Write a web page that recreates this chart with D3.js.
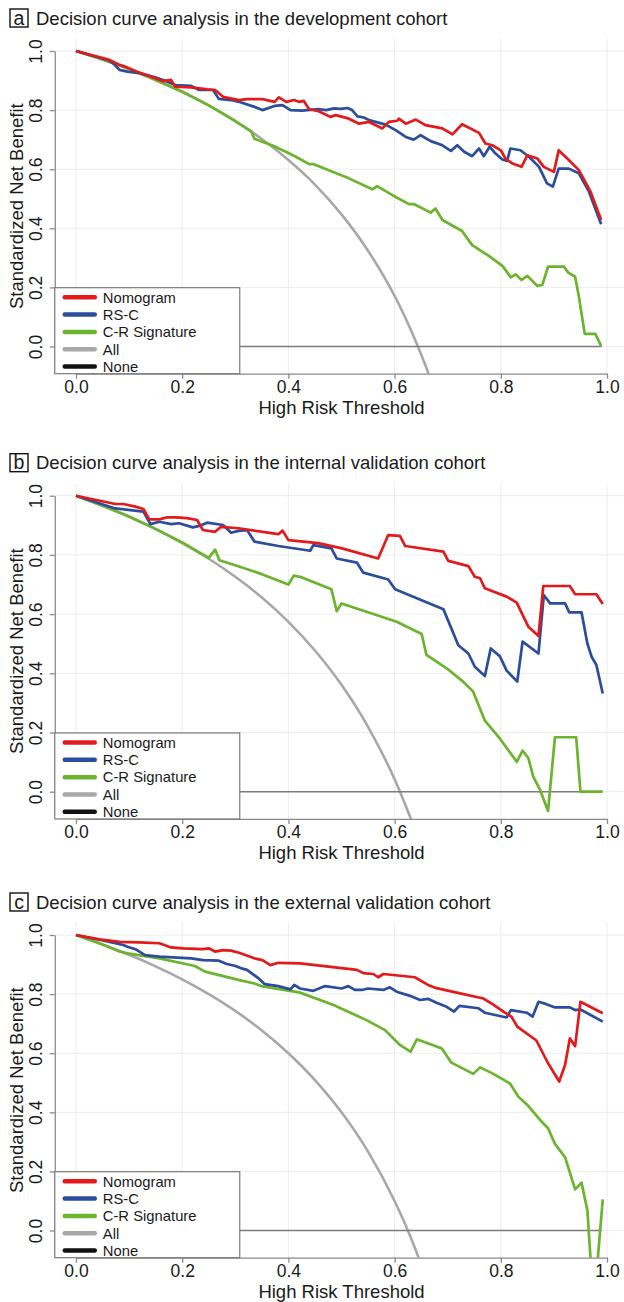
<!DOCTYPE html>
<html>
<head>
<meta charset="utf-8">
<script src="https://cdn.jsdelivr.net/npm/d3@7"></script>
<style>
  body { margin: 0; background: #fff; }
  text { font-family: "Liberation Sans", Arial, sans-serif; fill: #1a1a1a; }
</style>
</head>
<body>
<script>
// figure size
var W = 624, H = 1302;

// shared axis ticks and legend
var xTicks = [0, 0.2, 0.4, 0.6, 0.8, 1.0];
var yTicks = [0, 0.2, 0.4, 0.6, 0.8, 1.0];
var legendLabels = ["Nomogram", "RS-C", "C-R Signature", "All", "None"];
var legendColors = ["#e31a1c", "#2b4d9d", "#6cb32e", "#a8a8a8", "#111111"];
var panelLetters = ["a", "b", "c"];
var panelTitles = [
  "Decision curve analysis in the development cohort",
  "Decision curve analysis in the internal validation cohort",
  "Decision curve analysis in the external validation cohort"
];

// ---- (a) development cohort: [threshold, standardized net benefit]
var devNomogram = [[0,1.0],[0.063,0.97],[0.082,0.953],[0.093,0.947],[0.115,0.93],[0.142,0.913],[0.164,0.898],[0.179,0.902],[0.187,0.879],[0.217,0.877],[0.247,0.87],[0.262,0.868],[0.277,0.845],[0.307,0.834],[0.322,0.837],[0.351,0.837],[0.374,0.828],[0.382,0.843],[0.396,0.828],[0.411,0.834],[0.42,0.828],[0.429,0.831],[0.439,0.803],[0.457,0.796],[0.479,0.777],[0.489,0.783],[0.514,0.771],[0.533,0.754],[0.552,0.76],[0.577,0.738],[0.589,0.76],[0.605,0.764],[0.608,0.771],[0.621,0.754],[0.64,0.768],[0.658,0.749],[0.69,0.738],[0.709,0.718],[0.727,0.752],[0.759,0.723],[0.771,0.687],[0.784,0.681],[0.8,0.664],[0.809,0.636],[0.822,0.619],[0.839,0.608],[0.85,0.647],[0.869,0.636],[0.881,0.608],[0.9,0.591],[0.909,0.664],[0.928,0.631],[0.947,0.597],[0.969,0.524],[0.989,0.428]];
var devRSC = [[0,1.0],[0.062,0.968],[0.07,0.958],[0.082,0.936],[0.097,0.93],[0.119,0.925],[0.149,0.911],[0.164,0.902],[0.187,0.885],[0.217,0.882],[0.232,0.868],[0.258,0.868],[0.269,0.838],[0.292,0.834],[0.307,0.828],[0.336,0.811],[0.351,0.8],[0.374,0.814],[0.389,0.817],[0.404,0.8],[0.426,0.798],[0.456,0.803],[0.471,0.8],[0.486,0.806],[0.498,0.804],[0.511,0.807],[0.52,0.8],[0.53,0.779],[0.542,0.775],[0.552,0.766],[0.583,0.751],[0.602,0.732],[0.621,0.709],[0.636,0.7],[0.649,0.715],[0.668,0.695],[0.69,0.681],[0.706,0.662],[0.718,0.681],[0.731,0.659],[0.746,0.644],[0.759,0.67],[0.768,0.644],[0.779,0.676],[0.79,0.653],[0.803,0.633],[0.812,0.628],[0.818,0.67],[0.837,0.664],[0.853,0.642],[0.872,0.608],[0.887,0.552],[0.898,0.541],[0.909,0.602],[0.928,0.602],[0.947,0.586],[0.966,0.524],[0.989,0.414]];
var devCR = [[0,1.0],[0.05,0.971],[0.1,0.939],[0.15,0.902],[0.2,0.862],[0.25,0.816],[0.3,0.763],[0.33,0.728],[0.336,0.703],[0.37,0.68],[0.4,0.655],[0.42,0.636],[0.439,0.617],[0.448,0.617],[0.483,0.591],[0.514,0.569],[0.558,0.532],[0.567,0.543],[0.596,0.512],[0.627,0.482],[0.636,0.482],[0.668,0.453],[0.677,0.467],[0.69,0.428],[0.727,0.391],[0.746,0.343],[0.778,0.306],[0.803,0.273],[0.819,0.234],[0.828,0.244],[0.839,0.225],[0.85,0.239],[0.869,0.205],[0.878,0.208],[0.889,0.27],[0.919,0.27],[0.927,0.25],[0.94,0.236],[0.947,0.169],[0.958,0.043],[0.978,0.043],[0.989,0.002]];
var devAll = [[0,1.0],[0.05,0.971],[0.1,0.939],[0.15,0.902],[0.2,0.862],[0.25,0.816],[0.3,0.763],[0.35,0.702],[0.4,0.631],[0.45,0.548],[0.5,0.447],[0.55,0.324],[0.6,0.171],[0.62,0.098],[0.64,0.017],[0.66,-0.073],[0.67,-0.123]];

// ---- (b) internal validation cohort
var intNomogram = [[0,1.0],[0.074,0.972],[0.089,0.972],[0.112,0.963],[0.127,0.955],[0.138,0.92],[0.157,0.92],[0.172,0.927],[0.187,0.927],[0.209,0.924],[0.228,0.918],[0.239,0.884],[0.262,0.878],[0.273,0.895],[0.306,0.89],[0.381,0.87],[0.389,0.882],[0.4,0.85],[0.456,0.84],[0.501,0.822],[0.569,0.788],[0.588,0.867],[0.61,0.864],[0.62,0.83],[0.692,0.811],[0.701,0.78],[0.739,0.762],[0.751,0.726],[0.761,0.721],[0.77,0.687],[0.811,0.659],[0.83,0.639],[0.852,0.557],[0.871,0.526],[0.88,0.695],[0.93,0.695],[0.94,0.667],[0.98,0.667],[0.992,0.634]];
var intRSC = [[0,1.0],[0.074,0.957],[0.127,0.946],[0.14,0.904],[0.157,0.912],[0.179,0.904],[0.194,0.907],[0.22,0.893],[0.232,0.898],[0.247,0.909],[0.277,0.901],[0.292,0.875],[0.306,0.881],[0.322,0.884],[0.336,0.845],[0.381,0.83],[0.441,0.814],[0.447,0.833],[0.481,0.822],[0.491,0.788],[0.529,0.774],[0.541,0.74],[0.588,0.717],[0.601,0.684],[0.635,0.659],[0.692,0.616],[0.72,0.495],[0.739,0.467],[0.751,0.422],[0.77,0.391],[0.781,0.484],[0.798,0.458],[0.811,0.409],[0.831,0.372],[0.841,0.507],[0.871,0.467],[0.881,0.664],[0.893,0.636],[0.921,0.636],[0.929,0.606],[0.952,0.606],[0.963,0.501],[0.971,0.456],[0.98,0.428],[0.992,0.332]];
var intCR = [[0,1.0],[0.05,0.966],[0.1,0.93],[0.15,0.888],[0.2,0.842],[0.25,0.79],[0.262,0.818],[0.27,0.782],[0.3,0.765],[0.35,0.735],[0.4,0.7],[0.41,0.73],[0.422,0.726],[0.481,0.684],[0.491,0.61],[0.5,0.636],[0.547,0.608],[0.604,0.574],[0.651,0.533],[0.66,0.462],[0.698,0.417],[0.729,0.372],[0.748,0.338],[0.77,0.24],[0.798,0.18],[0.83,0.101],[0.841,0.139],[0.852,0.113],[0.861,0.051],[0.874,0.006],[0.889,-0.065],[0.902,0.184],[0.942,0.184],[0.95,0],[0.992,0]];
var intAll = [[0,1.0],[0.05,0.966],[0.1,0.929],[0.15,0.887],[0.2,0.84],[0.25,0.787],[0.3,0.726],[0.35,0.656],[0.4,0.574],[0.45,0.477],[0.5,0.361],[0.55,0.219],[0.6,0.042],[0.62,-0.043],[0.64,-0.136]];

// ---- (c) external validation cohort
var extNomogram = [[0,1.0],[0.044,0.985],[0.082,0.977],[0.119,0.975],[0.157,0.972],[0.179,0.958],[0.202,0.955],[0.239,0.952],[0.25,0.955],[0.262,0.944],[0.277,0.949],[0.292,0.947],[0.307,0.94],[0.336,0.921],[0.351,0.915],[0.366,0.898],[0.381,0.906],[0.422,0.904],[0.529,0.882],[0.541,0.871],[0.56,0.868],[0.569,0.857],[0.579,0.868],[0.638,0.857],[0.663,0.831],[0.679,0.82],[0.717,0.805],[0.767,0.785],[0.783,0.768],[0.805,0.741],[0.82,0.724],[0.831,0.69],[0.867,0.643],[0.889,0.566],[0.91,0.504],[0.921,0.56],[0.93,0.65],[0.94,0.624],[0.95,0.774],[0.992,0.735]];
var extRSC = [[0,1.0],[0.044,0.984],[0.089,0.966],[0.097,0.96],[0.112,0.952],[0.13,0.932],[0.157,0.927],[0.217,0.921],[0.239,0.915],[0.269,0.913],[0.284,0.902],[0.299,0.896],[0.31,0.888],[0.322,0.882],[0.344,0.853],[0.355,0.834],[0.381,0.827],[0.404,0.816],[0.411,0.831],[0.422,0.819],[0.447,0.811],[0.469,0.827],[0.5,0.819],[0.513,0.827],[0.525,0.814],[0.538,0.814],[0.55,0.819],[0.579,0.814],[0.591,0.823],[0.604,0.808],[0.629,0.794],[0.648,0.78],[0.663,0.784],[0.679,0.771],[0.698,0.757],[0.712,0.741],[0.722,0.76],[0.758,0.752],[0.77,0.737],[0.811,0.721],[0.819,0.746],[0.849,0.737],[0.86,0.724],[0.871,0.774],[0.886,0.766],[0.902,0.755],[0.93,0.755],[0.94,0.746],[0.95,0.748],[0.992,0.707]];
var extCR = [[0,1.0],[0.05,0.968],[0.082,0.944],[0.097,0.938],[0.157,0.921],[0.224,0.895],[0.243,0.876],[0.306,0.848],[0.336,0.836],[0.351,0.826],[0.4,0.812],[0.422,0.805],[0.485,0.763],[0.547,0.712],[0.582,0.678],[0.61,0.628],[0.63,0.605],[0.642,0.647],[0.689,0.616],[0.707,0.568],[0.748,0.53],[0.761,0.552],[0.786,0.53],[0.817,0.498],[0.833,0.453],[0.852,0.421],[0.874,0.374],[0.889,0.346],[0.902,0.293],[0.921,0.248],[0.94,0.139],[0.952,0.162],[0.963,0.069],[0.975,-0.26],[0.992,0.105]];
var extAll = [[0,1.0],[0.05,0.968],[0.1,0.933],[0.15,0.894],[0.2,0.85],[0.25,0.8],[0.3,0.743],[0.35,0.677],[0.4,0.6],[0.45,0.509],[0.5,0.4],[0.55,0.267],[0.6,0.1],[0.62,0.021],[0.64,-0.067],[0.66,-0.165]];

// "None" reference line
var noneLine = [[0, 0], [0.99, 0]];

var panels = [
  {nom: devNomogram, rsc: devRSC, cr: devCR, all: devAll, yOne: 51, yZero: 346.5},
  {nom: intNomogram, rsc: intRSC, cr: intCR, all: intAll, yOne: 495.7, yZero: 791.7},
  {nom: extNomogram, rsc: extRSC, cr: extCR, all: extAll, yOne: 935, yZero: 1230.5}
];

var svg = d3.select("body").append("svg")
    .attr("width", W)
    .attr("height", H);

svg.append("rect").attr("width", W).attr("height", H).attr("fill", "#fff");

panels.forEach(function(p, i) {
  var x = d3.scaleLinear().domain([0, 1]).range([76, 607]);
  var y = d3.scaleLinear().domain([0, 1]).range([p.yZero, p.yOne]);
  var left = x(-0.04), right = x(1.04), top = y(1.042), bottom = y(-0.092);

  var g = svg.append("g");

  // clip region = plot area
  var clipId = "clip" + i;
  svg.append("clipPath").attr("id", clipId)
    .append("rect")
    .attr("x", left).attr("y", top)
    .attr("width", right - left).attr("height", bottom - top);

  // light grid
  g.append("g").selectAll("line").data(xTicks).join("line")
    .attr("x1", function(d) { return x(d); })
    .attr("x2", function(d) { return x(d); })
    .attr("y1", top).attr("y2", bottom)
    .attr("stroke", "#ececec").attr("stroke-width", 1);
  g.append("g").selectAll("line").data(yTicks).join("line")
    .attr("x1", left).attr("x2", right)
    .attr("y1", function(d) { return y(d); })
    .attr("y2", function(d) { return y(d); })
    .attr("stroke", "#ececec").attr("stroke-width", 1);

  // axes
  var xa = g.append("g")
    .attr("transform", "translate(0," + bottom + ")")
    .call(d3.axisBottom(x).tickValues(xTicks).tickFormat(d3.format(".1f")).tickSize(5).tickSizeOuter(0));
  xa.select(".domain").attr("stroke", "#8a8a8a").attr("stroke-width", 1.3);
  xa.selectAll(".tick line").attr("stroke", "#8a8a8a").attr("stroke-width", 1.3);
  xa.selectAll("text")
    .attr("y", 19.5).attr("dy", 0)
    .style("font-size", "17.5px").style("font-family", "Liberation Sans, Arial, sans-serif").attr("fill", "#1a1a1a");

  var ya = g.append("g")
    .attr("transform", "translate(" + left + ",0)")
    .call(d3.axisLeft(y).tickValues(yTicks).tickFormat(d3.format(".1f")).tickSize(5).tickSizeOuter(0));
  ya.select(".domain").attr("stroke", "#8a8a8a").attr("stroke-width", 1.3);
  ya.selectAll(".tick line").attr("stroke", "#8a8a8a").attr("stroke-width", 1.3);
  ya.selectAll("text")
    .attr("transform", "rotate(-90)")
    .attr("x", 0).attr("y", -13).attr("dy", 0)
    .attr("text-anchor", "middle")
    .style("font-size", "17.5px").style("font-family", "Liberation Sans, Arial, sans-serif").attr("fill", "#1a1a1a");

  // axis titles
  g.append("text")
    .attr("x", (left + right) / 2)
    .attr("y", bottom + 40.5)
    .attr("text-anchor", "middle")
    .style("font-size", "18.5px")
    .text("High Risk Threshold");
  g.append("text")
    .attr("transform", "translate(23," + ((top + bottom) / 2) + ") rotate(-90)")
    .attr("text-anchor", "middle")
    .style("font-size", "18.5px")
    .text("Standardized Net Benefit");

  // curves
  var line = d3.line()
    .x(function(d) { return x(d[0]); })
    .y(function(d) { return y(d[1]); });
  var smooth = d3.line()
    .x(function(d) { return x(d[0]); })
    .y(function(d) { return y(d[1]); })
    .curve(d3.curveMonotoneX);

  var lines = g.append("g").attr("clip-path", "url(#" + clipId + ")");
  lines.append("path").attr("d", smooth(p.all))
    .attr("fill", "none").attr("stroke", legendColors[3]).attr("stroke-width", 2.6);
  lines.append("path").attr("d", line(noneLine))
    .attr("fill", "none").attr("stroke", "#7b7b7b").attr("stroke-width", 1.4);
  [[p.cr, legendColors[2]], [p.rsc, legendColors[1]], [p.nom, legendColors[0]]].forEach(function(s) {
    lines.append("path").attr("d", line(s[0]))
      .attr("fill", "none").attr("stroke", s[1])
      .attr("stroke-width", 2.7).attr("stroke-linejoin", "round");
  });

  // legend (white box, bottom-left)
  var lg = g.append("g").attr("transform", "translate(" + left + "," + (bottom - 86) + ")");
  lg.append("rect").attr("width", 185).attr("height", 86)
    .attr("fill", "#fff").attr("stroke", "#7b7b7b").attr("stroke-width", 1.2);
  var item = lg.selectAll("g.item").data(legendLabels).join("g")
    .attr("class", "item")
    .attr("transform", function(d, k) { return "translate(0," + (9.6 + k * 17.3) + ")"; });
  item.append("line")
    .attr("x1", 10).attr("x2", 40)
    .attr("stroke", function(d, k) { return legendColors[k]; })
    .attr("stroke-width", 4.5).attr("stroke-linecap", "round");
  item.append("text")
    .attr("x", 48).attr("dy", "0.36em")
    .style("font-size", "14.8px")
    .text(function(d) { return d; });

  // panel title with boxed letter
  var ty = p.yOne - 26.5;
  g.append("rect")
    .attr("x", 10).attr("y", ty - 15.5)
    .attr("width", 18).attr("height", 18)
    .attr("fill", "none").attr("stroke", "#111").attr("stroke-width", 1.4);
  g.append("text")
    .attr("x", 19).attr("y", ty)
    .attr("text-anchor", "middle")
    .style("font-size", "19.5px")
    .text(panelLetters[i]);
  g.append("text")
    .attr("x", 36).attr("y", ty)
    .style("font-size", "18.5px")
    .text(panelTitles[i]);
});
</script>
</body>
</html>
